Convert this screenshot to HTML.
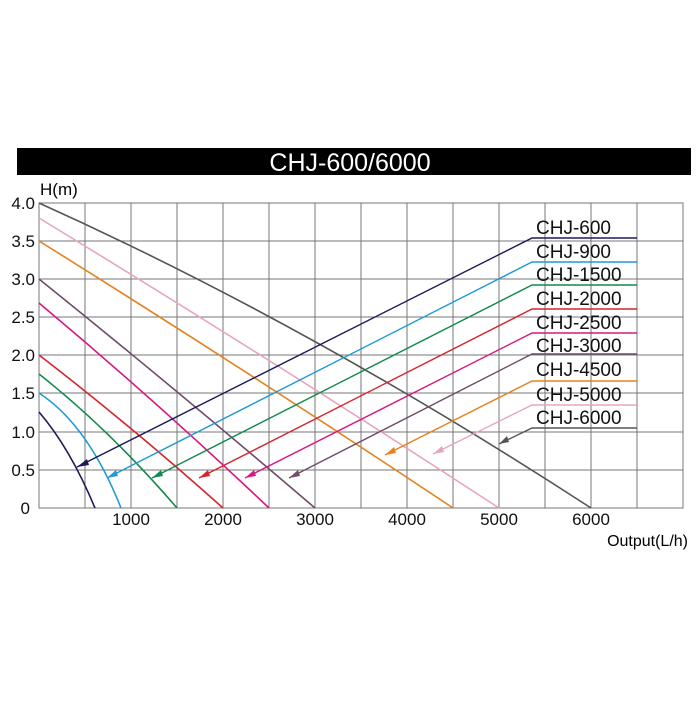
<!DOCTYPE html>
<html><head><meta charset="utf-8"><style>body{margin:0;background:#fff}</style></head><body>
<svg width="700" height="700" xmlns="http://www.w3.org/2000/svg" font-family="Liberation Sans, sans-serif">
<rect width="700" height="700" fill="#fff"/>
<rect x="17" y="148" width="674" height="27" fill="#000"/>
<text x="350" y="171" fill="#fff" font-size="25" text-anchor="middle">CHJ-600/6000</text>
<g stroke="#777" stroke-width="1">
<line x1="85" y1="203" x2="85" y2="508"/><line x1="131" y1="203" x2="131" y2="508"/><line x1="177" y1="203" x2="177" y2="508"/><line x1="223" y1="203" x2="223" y2="508"/><line x1="269" y1="203" x2="269" y2="508"/><line x1="315" y1="203" x2="315" y2="508"/><line x1="361" y1="203" x2="361" y2="508"/><line x1="407" y1="203" x2="407" y2="508"/><line x1="453" y1="203" x2="453" y2="508"/><line x1="499" y1="203" x2="499" y2="508"/><line x1="545" y1="203" x2="545" y2="508"/><line x1="591" y1="203" x2="591" y2="508"/><line x1="637" y1="203" x2="637" y2="508"/>
<line x1="39" y1="241" x2="683" y2="241"/><line x1="39" y1="279" x2="683" y2="279"/><line x1="39" y1="317" x2="683" y2="317"/><line x1="39" y1="355" x2="683" y2="355"/><line x1="39" y1="393" x2="683" y2="393"/><line x1="39" y1="432" x2="683" y2="432"/><line x1="39" y1="470" x2="683" y2="470"/>
<rect x="39" y="203" width="644" height="305" fill="none"/>
</g>
<g font-size="17" fill="#111" text-anchor="end">
<text x="35" y="209">4.0</text><text x="35" y="247">3.5</text><text x="35" y="285">3.0</text><text x="35" y="323">2.5</text><text x="35" y="361">2.0</text><text x="35" y="399">1.5</text><text x="35" y="438">1.0</text><text x="35" y="476">0.5</text><text x="30" y="514">0</text>
</g>
<text x="40" y="195" font-size="17">H(m)</text>
<g font-size="17" fill="#111" text-anchor="middle">
<text x="131" y="525">1000</text><text x="223" y="525">2000</text><text x="315" y="525">3000</text><text x="407" y="525">4000</text><text x="499" y="525">5000</text><text x="591" y="525">6000</text>
</g>
<text x="688" y="546" font-size="16" text-anchor="end">Output(L/h)</text>
<g fill="none" stroke-width="1.6">
<path d="M39,412 Q70,448 95,508" stroke="#1c1a5a"/>
<path d="M39,393 Q88,425 121,508" stroke="#1e9ad6"/>
<path d="M39,374 Q110,430 177,508" stroke="#138a4e"/>
<path d="M39,355 Q130,425 223,508" stroke="#d4262c"/>
<path d="M39,303 Q155,400 269,508" stroke="#d6197f"/>
<path d="M39,279 Q177,390 315,508" stroke="#6e4c6a"/>
<path d="M39,241 Q246,370 453,508" stroke="#e3821f"/>
<path d="M39,218 Q269,358 499,508" stroke="#e8a5bd"/>
<path d="M39,203 Q310,325 591,508" stroke="#555"/>
</g>
<g fill="none" stroke-width="1.4">
<polyline points="637,238 532,238 77,467" stroke="#1c1a5a"/>
<polyline points="637,262 532,262 107,478" stroke="#1e9ad6"/>
<polyline points="637,285 532,285 152,478" stroke="#138a4e"/>
<polyline points="637,309 532,309 199,478" stroke="#d4262c"/>
<polyline points="637,333 532,333 245,478" stroke="#d6197f"/>
<polyline points="637,354 532,354 289,478" stroke="#6e4c6a"/>
<polyline points="637,381 532,381 385,455" stroke="#e3821f"/>
<polyline points="637,405 532,405 433,454" stroke="#e8a5bd"/>
<polyline points="637,428 532,428 499,444" stroke="#555"/>
</g>
<g>
<polygon points="77,467 87,459 89,465" fill="#1c1a5a"/>
<polygon points="107,478 116,470 118,476" fill="#1e9ad6"/>
<polygon points="152,478 161,470 163,476" fill="#138a4e"/>
<polygon points="199,478 208,470 210,476" fill="#d4262c"/>
<polygon points="245,478 254,470 256,476" fill="#d6197f"/>
<polygon points="289,478 298,470 300,476" fill="#6e4c6a"/>
<polygon points="385,455 394,447 396,453" fill="#e3821f"/>
<polygon points="433,454 442,446 444,452" fill="#e8a5bd"/>
<polygon points="499,444 507,436 509,442" fill="#555"/>
</g>
<g font-size="19" fill="#111">
<text x="536" y="234">CHJ-600</text>
<text x="536" y="258">CHJ-900</text>
<text x="536" y="281">CHJ-1500</text>
<text x="536" y="305">CHJ-2000</text>
<text x="536" y="329">CHJ-2500</text>
<text x="536" y="352">CHJ-3000</text>
<text x="536" y="376">CHJ-4500</text>
<text x="536" y="401">CHJ-5000</text>
<text x="536" y="424">CHJ-6000</text>
</g>
</svg>
</body></html>
